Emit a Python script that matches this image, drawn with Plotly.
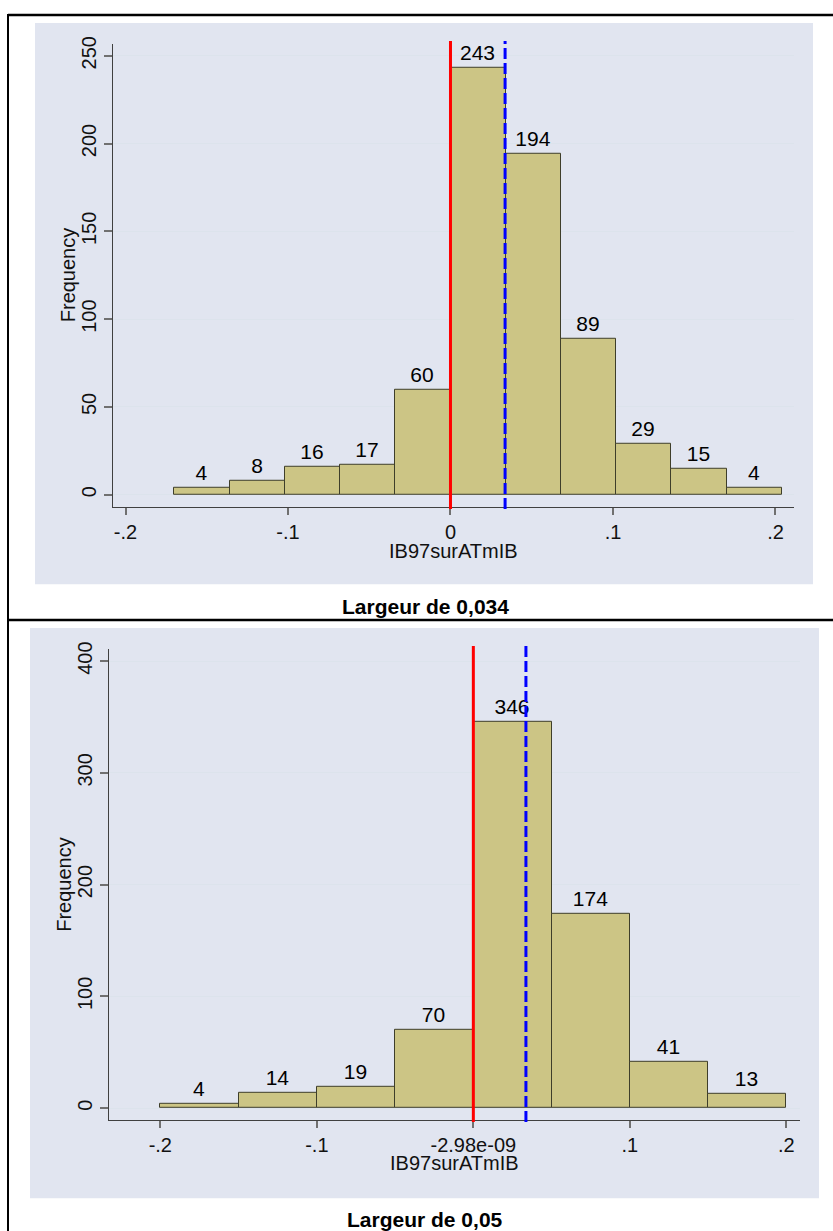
import plotly.graph_objects as go

# --- data ---
top_edges = [-0.170, -0.136, -0.102, -0.068, -0.034, 0.0, 0.034, 0.068, 0.102, 0.136, 0.170, 0.204]
top_counts = [4, 8, 16, 17, 60, 243, 194, 89, 29, 15, 4]
top_yticks = [0, 50, 100, 150, 200, 250]
top_xticks = [-0.2, -0.1, 0.0, 0.1, 0.2]
top_xticktext = ["-.2", "-.1", "0", ".1", ".2"]

bot_edges = [-0.20, -0.15, -0.10, -0.05, 0.0, 0.05, 0.10, 0.15, 0.20]
bot_counts = [4, 14, 19, 70, 346, 174, 41, 13]
bot_yticks = [0, 100, 200, 300, 400]
bot_xticks = [-0.2, -0.1, -2.98e-09, 0.1, 0.2]
bot_xticktext = ["-.2", "-.1", "-2.98e-09", ".1", ".2"]

zero_line = 0.0
mean_line = 0.0336

captions = ["Largeur de 0,034", "Largeur de 0,05"]
x_title = "IB97surATmIB"
y_title = "Frequency"

# --- layout helpers (pixel -> paper) ---
W, H = 833, 1231
FONT = "Liberation Sans, Arial, sans-serif"
BAR_FILL = "#CCC585"
BAR_LINE = "#3E3E2A"
PANEL = "#E1E5F0"
GRID = "#DCE3EC"


def px(x):
    return x / W


def py(y):
    return 1 - y / H


def bars(edges, counts, xa, ya):
    centers = [(a + b) / 2 for a, b in zip(edges[:-1], edges[1:])]
    widths = [b - a for a, b in zip(edges[:-1], edges[1:])]
    return go.Bar(
        x=centers,
        y=counts,
        width=widths,
        text=[str(c) for c in counts],
        textposition="outside",
        textfont=dict(size=21, color="black", family=FONT),
        constraintext="none",
        cliponaxis=False,
        marker=dict(color=BAR_FILL, line=dict(color=BAR_LINE, width=1)),
        xaxis=xa,
        yaxis=ya,
        showlegend=False,
        hoverinfo="x+y",
    )


fig = go.Figure()
fig.add_trace(bars(top_edges, top_counts, "x", "y"))
fig.add_trace(bars(bot_edges, bot_counts, "x2", "y2"))

xaxis_common = dict(
    showline=True,
    linecolor="#404040",
    linewidth=1,
    ticks="outside",
    ticklen=7,
    tickwidth=1.5,
    tickcolor="#707070",
    showgrid=False,
    zeroline=False,
    tickfont=dict(size=20, color="#111", family=FONT),
    fixedrange=True,
)
yaxis_common = dict(
    showline=True,
    linecolor="#404040",
    linewidth=1,
    ticks="outside",
    ticklen=8,
    tickwidth=1.5,
    tickcolor="#707070",
    showgrid=True,
    gridcolor=GRID,
    gridwidth=1,
    zeroline=False,
    tickangle=-90,
    tickfont=dict(size=20, color="#111", family=FONT),
    fixedrange=True,
)

fig.update_layout(
    width=W,
    height=H,
    margin=dict(l=0, r=0, t=0, b=0),
    paper_bgcolor="white",
    plot_bgcolor="white",
    bargap=0,
    font=dict(family=FONT),
    xaxis=dict(
        xaxis_common,
        domain=[px(113), px(794)],
        range=[-0.2077, 0.2114],
        tickvals=top_xticks,
        ticktext=top_xticktext,
        anchor="y",
    ),
    yaxis=dict(
        yaxis_common,
        domain=[py(502), py(36)],
        range=[-6.8, 256.8],
        tickvals=top_yticks,
        anchor="x",
    ),
    xaxis2=dict(
        xaxis_common,
        domain=[px(109), px(799.5)],
        range=[-0.2328, 0.2084],
        tickvals=bot_xticks,
        ticktext=bot_xticktext,
        anchor="y2",
    ),
    yaxis2=dict(
        yaxis_common,
        domain=[py(1119), py(645)],
        range=[-10.4, 411],
        tickvals=bot_yticks,
        anchor="x2",
    ),
)

shapes = [
    # grey panels behind each graph
    dict(type="rect", xref="paper", yref="paper", x0=px(35), x1=px(813),
         y0=py(580), y1=py(15), fillcolor=PANEL, line_width=0, layer="below"),
    dict(type="rect", xref="paper", yref="paper", x0=px(30), x1=px(819),
         y0=py(1198), y1=py(624), fillcolor=PANEL, line_width=0, layer="below"),
    # black frame lines
    dict(type="line", xref="paper", yref="paper", x0=px(8), x1=px(833),
         y0=py(7), y1=py(7), line=dict(color="black", width=2.5)),
    dict(type="line", xref="paper", yref="paper", x0=px(8), x1=px(833),
         y0=py(616), y1=py(616), line=dict(color="black", width=2.5)),
    dict(type="line", xref="paper", yref="paper", x0=px(8), x1=px(8),
         y0=py(6), y1=py(1231), line=dict(color="black", width=2)),
]

# reference lines: zero (red) and mean (blue dashed)
for xa, ya in [("x", "y"), ("x2", "y2")]:
    shapes.append(dict(type="line", xref=xa, yref=f"{ya} domain", x0=zero_line, x1=zero_line,
                       y0=-0.005, y1=1.006, line=dict(color="#FF0000", width=3), layer="above"))
    shapes.append(dict(type="line", xref=xa, yref=f"{ya} domain", x0=mean_line, x1=mean_line,
                       y0=-0.005, y1=1.006,
                       line=dict(color="#0000FF", width=3, dash="11px,4px"), layer="above"))
fig.update_layout(shapes=shapes)

annotations = [
    dict(text=y_title, x=px(68), y=py(269), textangle=-90),
    dict(text=x_title, x=px(453.5), y=py(547)),
    dict(text=y_title, x=px(64.5), y=py(882), textangle=-90),
    dict(text=x_title, x=px(454), y=py(1163)),
]
for a in annotations:
    a.update(xref="paper", yref="paper", showarrow=False, xanchor="center", yanchor="middle",
             font=dict(size=20, color="#111", family=FONT))

for text, y in zip(captions, [602, 1219]):
    annotations.append(dict(text=f"<b>{text}</b>", x=px(425), y=py(y), xref="paper", yref="paper",
                            showarrow=False, xanchor="center", yanchor="middle",
                            font=dict(size=21, color="black", family=FONT)))
fig.update_layout(annotations=annotations)

# page body has an 8px default margin; drop it so the figure sits at the window corner
fig.write_html(
    "out.html",
    config={"displayModeBar": False},
    post_script="document.body.style.margin = '0';",
)
